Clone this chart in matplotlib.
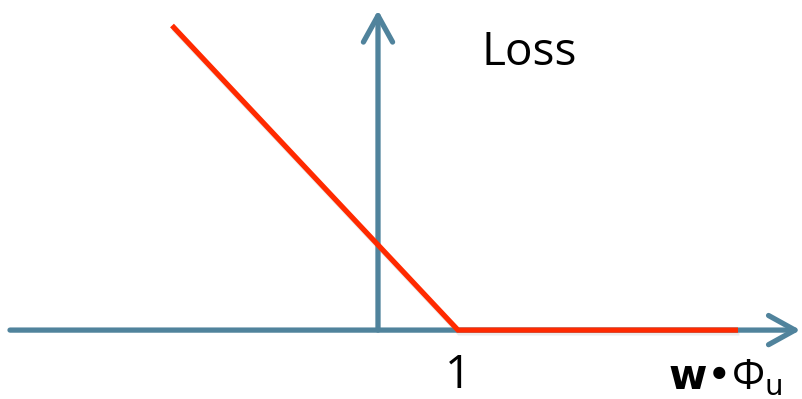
import matplotlib
matplotlib.use('Agg')
import matplotlib.pyplot as plt
import matplotlib.patheffects as pe

# hinge loss: max(0, 1 - z)
z = [-2.575, 1.0, 4.5]
loss = [3.58, 0.0, 0.0]

axis_color = '#50839C'
red = '#FF2A00'

fig = plt.figure(figsize=(8.03, 3.99), dpi=100)
ax = fig.add_axes([0, 0, 1, 1])
ax.set_xlim(-4.725, 5.3125)
ax.set_ylim(-0.81, 3.88)
ax.axis('off')

shadow = [pe.SimpleLineShadow(offset=(1, -2), shadow_color='gray', alpha=0.15), pe.Normal()]

arrow = dict(arrowstyle='->,head_length=1.9,head_width=1.05', lw=3.8, color=axis_color,
             shrinkA=0, shrinkB=0, capstyle='round', joinstyle='round')
# horizontal axis
ax.annotate('', xy=(5.28, 0), xytext=(-4.6, 0), arrowprops=arrow)
# vertical axis
ax.annotate('', xy=(0, 3.76), xytext=(0, 0), arrowprops=arrow)

ax.plot(z, loss, color=red, lw=3.8, solid_capstyle='butt', solid_joinstyle='miter',
        zorder=3, path_effects=shadow)

ax.text(1.3, 3.12, 'Loss', fontsize=33, family='Open Sans', ha='left', va='baseline')
ax.text(1.0, -0.68, '1', fontsize=33, family='Open Sans', ha='center', va='baseline')
ax.text(3.62, -0.69, r'$\mathbf{w}$•Φ$_{\mathrm{u}}$', fontsize=30, family='Open Sans',
        ha='left', va='baseline')

fig.savefig('out.png', dpi=100)
